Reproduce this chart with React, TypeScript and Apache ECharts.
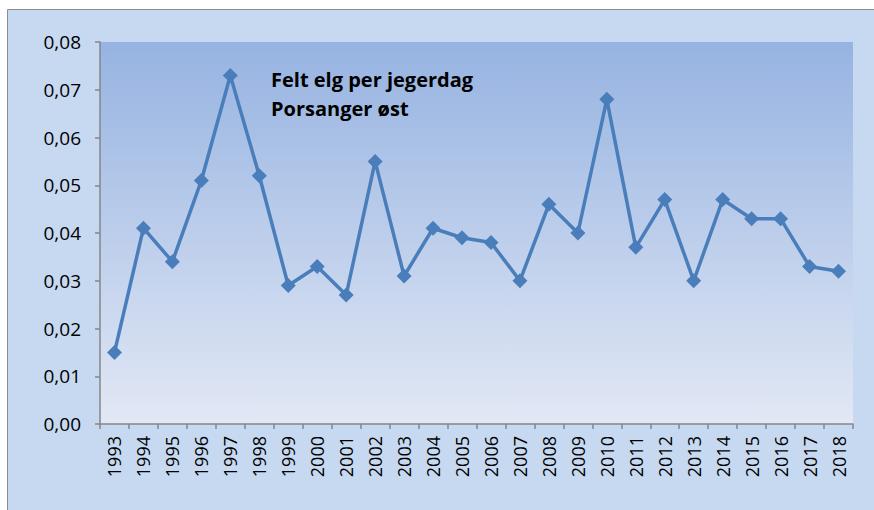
import React, { useEffect, useRef } from "react";
import * as echarts from "echarts";

const years = ["1993","1994","1995","1996","1997","1998","1999","2000","2001","2002","2003","2004","2005","2006","2007","2008","2009","2010","2011","2012","2013","2014","2015","2016","2017","2018"];
const feltPerJegerdag = [0.015,0.041,0.034,0.051,0.073,0.052,0.029,0.033,0.027,0.055,0.031,0.041,0.039,0.038,0.030,0.046,0.040,0.068,0.037,0.047,0.030,0.047,0.043,0.043,0.033,0.032];
const titleLines = ["Felt elg per jegerdag", "Porsanger øst"];

export default function App() {
  const ref = useRef<HTMLDivElement>(null);
  useEffect(() => {
    document.body.style.margin = "0";
    const chart = echarts.init(ref.current!, null, { renderer: "svg" });
    const font = "'Open Sans', 'Noto Sans', sans-serif";
    chart.setOption({
      animation: false,
      backgroundColor: "#ffffff",
      graphic: [
        {
          type: "rect",
          z: -10,
          silent: true,
          shape: { x: 7.5, y: 9.5, width: 880, height: 520 },
          style: { fill: "#c6d9f1", stroke: "#8c8c8c", lineWidth: 1 },
        },
        {
          type: "text",
          x: 271,
          y: 79,
          z: 10,
          style: {
            text: titleLines[0],
            font: `bold 20px ${font}`,
            verticalAlign: "middle",
            fill: "#000000",
          },
        },
        {
          type: "text",
          x: 271,
          y: 108,
          z: 10,
          style: {
            text: titleLines[1],
            font: `bold 20px ${font}`,
            verticalAlign: "middle",
            fill: "#000000",
          },
        },
      ],
      grid: {
        left: 100,
        top: 42,
        right: 21,
        bottom: 86,
        show: true,
        borderWidth: 0,
        backgroundColor: new echarts.graphic.LinearGradient(0, 0, 0, 1, [
          { offset: 0, color: "#96b3e1" },
          { offset: 1, color: "#e2e8f5" },
        ]),
      },
      xAxis: {
        type: "category",
        data: years,
        boundaryGap: true,
        axisLine: { lineStyle: { color: "#868686", width: 1.5 } },
        axisTick: { show: true, length: 5, alignWithLabel: false, lineStyle: { color: "#868686", width: 1.5 } },
        axisLabel: {
          rotate: 90,
          interval: 0,
          color: "#000000",
          fontSize: 18,
          fontFamily: font,
          margin: 12,
        },
      },
      yAxis: {
        type: "value",
        min: 0,
        max: 0.08,
        interval: 0.01,
        splitLine: { show: false },
        axisLine: { show: true, lineStyle: { color: "#868686", width: 1.5 } },
        axisTick: { show: true, length: 5, lineStyle: { color: "#868686", width: 1.5 } },
        axisLabel: {
          color: "#000000",
          fontSize: 19,
          fontFamily: font,
          margin: 19,
          formatter: (v: number) => v.toFixed(2).replace(".", ","),
        },
      },
      series: [
        {
          type: "line",
          data: feltPerJegerdag,
          symbol: "diamond",
          symbolSize: 15,
          lineStyle: { color: "#4a7ebb", width: 3.5 },
          itemStyle: { color: "#4a7ebb" },
        },
      ],
    });
    return () => chart.dispose();
  }, []);
  return <div ref={ref} style={{ width: 874, height: 510 }} />;
}
